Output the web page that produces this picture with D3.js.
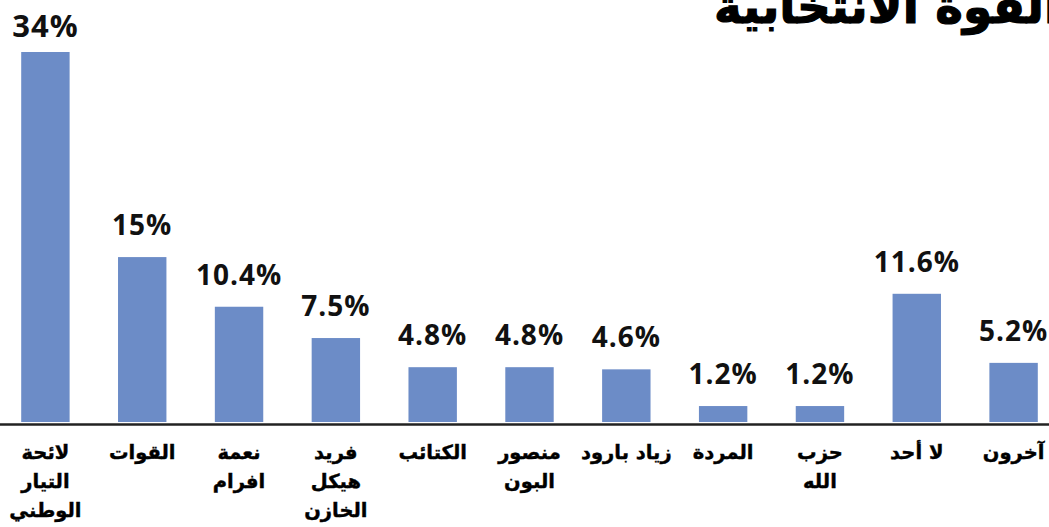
<!DOCTYPE html>
<html>
<head>
<meta charset="utf-8">
<script src="https://cdn.jsdelivr.net/npm/d3@7/dist/d3.min.js"></script>
<style>
  html, body { margin: 0; padding: 0; background: #fff; overflow: hidden; }
  svg { display: block; }
</style>
</head>
<body>
<svg id="chart" width="1049" height="527"></svg>
<script>
// ---- data ----
const categories = [
  ["لائحة", "التيار", "الوطني"],
  ["القوات"],
  ["نعمة", "افرام"],
  ["فريد", "هيكل", "الخازن"],
  ["الكتائب"],
  ["منصور", "البون"],
  ["زياد بارود"],
  ["المردة"],
  ["حزب", "الله"],
  ["لا أحد"],
  ["آخرون"]
];
const values = [34, 15, 10.4, 7.5, 4.8, 4.8, 4.6, 1.2, 1.2, 11.6, 5.2];
const valueLabels = ["34%", "15%", "10.4%", "7.5%", "4.8%", "4.8%", "4.6%", "1.2%", "1.2%", "11.6%", "5.2%"];
const title = "القوة الانتخابية";

// ---- layout ----
const W = 1049, H = 527;
const baseY = 422;
const svg = d3.select("#chart");

const x = d3.scaleBand()
  .domain(d3.range(values.length))
  .range([-3, 1062])
  .paddingInner(0.5)
  .paddingOuter(0.25);

const y = d3.scaleLinear()
  .domain([0, d3.max(values)])
  .range([419, 52]);

// title (partly cut off at top-right, as in the reference)
svg.append("text")
  .attr("x", 1060)
  .attr("y", 23)
  .attr("text-anchor", "end")
  .attr("font-family", "DejaVu Sans")
  .attr("font-weight", "bold")
  .attr("font-size", 47)
  .attr("stroke", "#000")
  .attr("stroke-width", 1.2)
  .attr("fill", "#000")
  .text(title);

// bars
svg.append("g").selectAll("rect")
  .data(values)
  .join("rect")
  .attr("x", (d, i) => x(i))
  .attr("width", x.bandwidth())
  .attr("y", d => y(d))
  .attr("height", d => baseY - y(d))
  .attr("fill", "#6c8cc7");

// value labels
const maxV = d3.max(values);
svg.append("g").selectAll("text")
  .data(values)
  .join("text")
  .attr("x", (d, i) => x(i) + x.bandwidth() / 2)
  .attr("y", d => y(d) - (d === maxV ? 15 : 22))
  .attr("text-anchor", "middle")
  .attr("font-family", "'Open Sans', sans-serif")
  .attr("font-weight", "bold")
  .attr("font-size", d => d === maxV ? 31 : 28)
  .attr("letter-spacing", 1)
  .attr("fill", "#111")
  .text((d, i) => valueLabels[i]);

// axis line
svg.append("line")
  .attr("x1", 0).attr("x2", W)
  .attr("y1", baseY + 2.5).attr("y2", baseY + 2.5)
  .attr("stroke", "#222")
  .attr("stroke-width", 2.5);

// category labels
const catG = svg.append("g").selectAll("text")
  .data(categories)
  .join("text")
  .attr("text-anchor", "middle")
  .attr("font-family", "DejaVu Sans")
  .attr("font-weight", "bold")
  .attr("font-size", 19.5)
  .attr("stroke", "#000")
  .attr("stroke-width", 0.4)
  .attr("fill", "#000");

catG.each(function(lines, i) {
  const t = d3.select(this);
  lines.forEach((ln, j) => {
    t.append("tspan")
      .attr("x", x(i) + x.bandwidth() / 2)
      .attr("y", 459 + j * 29)
      .text(ln);
  });
});
</script>
</body>
</html>
